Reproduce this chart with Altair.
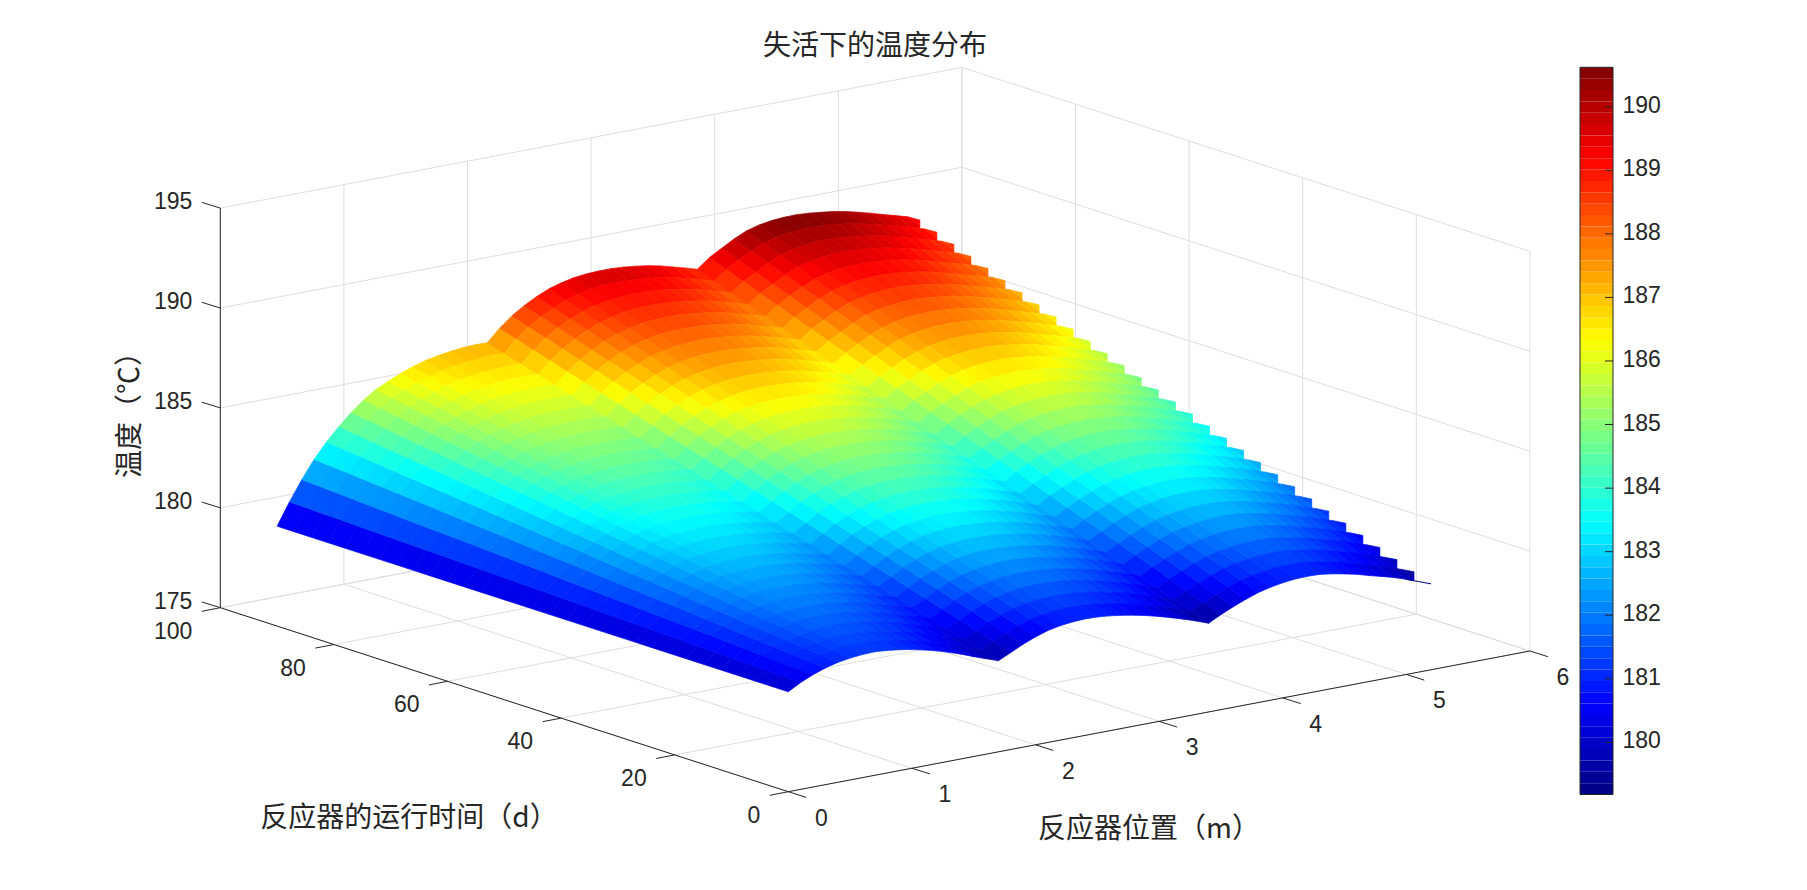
import altair as alt

# ---------- data ----------
positions = [round(0.1 * j, 1) for j in range(53)]
days = [3 * k for k in range(31)]
temps = [
[180.00,180.35,180.62,180.84,181.00,181.10,181.16,181.18,181.13,181.05,180.94,180.80,180.64,180.45,180.24,180.00,179.78,179.56,179.85,180.15,180.40,180.60,180.73,180.80,180.83,180.81,180.75,180.66,180.55,180.41,180.25,180.07,179.88,179.67,179.44,179.75,180.03,180.28,180.50,180.65,180.76,180.83,180.85,180.83,180.74,180.62,180.48,180.30,180.14,179.97,179.76,179.53,179.30],
[180.00,180.38,180.67,180.91,181.09,181.21,181.29,181.32,181.29,181.22,181.12,181.00,180.85,180.67,180.47,180.24,180.03,179.81,180.12,180.42,180.68,180.88,181.02,181.09,181.12,181.11,181.05,180.96,180.85,180.72,180.56,180.38,180.19,179.98,179.75,180.07,180.35,180.61,180.83,180.98,181.09,181.16,181.18,181.16,181.07,180.95,180.81,180.63,180.47,180.30,180.09,179.86,179.63],
[180.00,180.40,180.72,180.98,181.18,181.32,181.42,181.47,181.45,181.39,181.31,181.19,181.06,180.89,180.70,180.48,180.27,180.07,180.38,180.69,180.95,181.16,181.30,181.38,181.42,181.40,181.35,181.26,181.16,181.02,180.87,180.69,180.50,180.30,180.07,180.39,180.67,180.93,181.16,181.31,181.42,181.48,181.50,181.48,181.39,181.28,181.14,180.96,180.80,180.63,180.42,180.19,179.96],
[180.00,180.43,180.77,181.06,181.28,181.43,181.54,181.61,181.61,181.57,181.49,181.39,181.26,181.10,180.93,180.72,180.52,180.32,180.65,180.97,181.23,181.44,181.59,181.67,181.71,181.70,181.65,181.57,181.46,181.33,181.18,181.00,180.81,180.61,180.38,180.71,181.00,181.26,181.48,181.63,181.74,181.81,181.83,181.81,181.72,181.60,181.47,181.29,181.13,180.96,180.75,180.53,180.29],
[180.00,180.45,180.82,181.13,181.37,181.54,181.67,181.76,181.77,181.74,181.68,181.59,181.47,181.32,181.16,180.96,180.77,180.58,180.91,181.24,181.51,181.72,181.87,181.96,182.00,181.99,181.95,181.87,181.77,181.64,181.49,181.31,181.12,180.93,180.70,181.03,181.32,181.58,181.81,181.96,182.07,182.14,182.16,182.14,182.05,181.93,181.80,181.62,181.46,181.29,181.08,180.86,180.62],
[180.00,180.48,180.87,181.20,181.46,181.65,181.80,181.90,181.93,181.91,181.86,181.78,181.68,181.54,181.38,181.20,181.02,180.83,181.18,181.51,181.78,182.01,182.16,182.25,182.30,182.29,182.25,182.17,182.07,181.94,181.80,181.62,181.44,181.24,181.01,181.35,181.64,181.91,182.14,182.29,182.40,182.47,182.49,182.46,182.38,182.26,182.13,181.95,181.79,181.62,181.41,181.19,180.95],
[180.00,180.50,180.92,181.27,181.55,181.76,181.93,182.04,182.08,182.08,182.05,181.98,181.89,181.76,181.61,181.43,181.26,181.09,181.44,181.78,182.06,182.29,182.44,182.54,182.59,182.59,182.54,182.47,182.38,182.25,182.10,181.93,181.75,181.55,181.33,181.67,181.96,182.23,182.47,182.62,182.73,182.79,182.81,182.79,182.70,182.59,182.45,182.28,182.12,181.95,181.74,181.52,181.28],
[180.00,180.53,180.97,181.34,181.64,181.87,182.06,182.19,182.24,182.25,182.23,182.18,182.10,181.98,181.84,181.67,181.51,181.34,181.71,182.05,182.34,182.57,182.73,182.83,182.88,182.88,182.84,182.77,182.68,182.56,182.41,182.25,182.06,181.86,181.64,181.99,182.29,182.56,182.79,182.95,183.06,183.12,183.14,183.11,183.03,182.92,182.78,182.61,182.45,182.28,182.07,181.86,181.61],
[180.00,180.55,181.01,181.42,181.73,181.98,182.18,182.33,182.40,182.42,182.41,182.37,182.30,182.20,182.07,181.91,181.76,181.59,181.97,182.32,182.61,182.85,183.02,183.11,183.17,183.18,183.14,183.08,182.98,182.86,182.72,182.56,182.37,182.17,181.95,182.31,182.61,182.89,183.12,183.28,183.38,183.45,183.47,183.44,183.36,183.25,183.11,182.94,182.78,182.60,182.41,182.19,181.95],
[180.00,180.58,181.06,181.49,181.83,182.09,182.31,182.48,182.56,182.60,182.60,182.57,182.51,182.41,182.30,182.15,182.01,181.85,182.24,182.60,182.89,183.13,183.30,183.40,183.47,183.47,183.44,183.38,183.29,183.17,183.03,182.87,182.68,182.48,182.27,182.63,182.93,183.21,183.45,183.60,183.71,183.78,183.79,183.77,183.68,183.57,183.44,183.27,183.11,182.93,182.74,182.52,182.28],
[180.00,180.60,181.11,181.56,181.92,182.20,182.44,182.62,182.72,182.77,182.78,182.77,182.72,182.63,182.53,182.39,182.25,182.10,182.50,182.87,183.17,183.41,183.59,183.69,183.76,183.77,183.74,183.68,183.59,183.48,183.34,183.18,182.99,182.80,182.58,182.95,183.25,183.54,183.78,183.93,184.04,184.10,184.12,184.09,184.01,183.90,183.77,183.60,183.44,183.26,183.07,182.85,182.61],
[180.00,180.63,181.16,181.63,182.01,182.31,182.57,182.76,182.88,182.94,182.97,182.96,182.93,182.85,182.76,182.63,182.50,182.36,182.77,183.14,183.44,183.69,183.87,183.98,184.05,184.07,184.04,183.99,183.90,183.78,183.65,183.49,183.30,183.11,182.90,183.27,183.58,183.86,184.10,184.26,184.37,184.43,184.45,184.42,184.34,184.23,184.10,183.93,183.77,183.59,183.40,183.19,182.94],
[180.00,180.65,181.21,181.70,182.10,182.42,182.70,182.91,183.04,183.11,183.15,183.16,183.14,183.07,182.98,182.87,182.75,182.61,183.03,183.41,183.72,183.97,184.16,184.27,184.35,184.36,184.34,184.28,184.20,184.09,183.96,183.80,183.62,183.42,183.21,183.59,183.90,184.19,184.43,184.59,184.70,184.76,184.77,184.75,184.66,184.56,184.43,184.26,184.10,183.92,183.73,183.52,183.27],
[180.00,180.68,181.26,181.78,182.19,182.53,182.82,183.05,183.20,183.28,183.34,183.36,183.34,183.29,183.21,183.11,182.99,182.87,183.30,183.68,184.00,184.25,184.44,184.56,184.64,184.66,184.64,184.59,184.51,184.40,184.27,184.11,183.93,183.74,183.53,183.91,184.22,184.51,184.76,184.92,185.02,185.08,185.10,185.07,184.99,184.89,184.76,184.59,184.43,184.25,184.06,183.85,183.60],
[180.00,180.70,181.31,181.85,182.28,182.64,182.95,183.20,183.36,183.45,183.52,183.55,183.55,183.51,183.44,183.35,183.24,183.12,183.56,183.95,184.27,184.53,184.73,184.85,184.93,184.95,184.94,184.89,184.81,184.70,184.58,184.42,184.24,184.05,183.84,184.23,184.54,184.84,185.09,185.25,185.35,185.41,185.43,185.40,185.32,185.22,185.09,184.92,184.76,184.58,184.39,184.18,183.93],
[180.00,180.73,181.36,181.92,182.38,182.75,183.08,183.34,183.52,183.63,183.70,183.75,183.76,183.72,183.67,183.59,183.49,183.37,183.83,184.23,184.55,184.82,185.02,185.14,185.23,185.25,185.24,185.19,185.12,185.01,184.89,184.73,184.55,184.36,184.15,184.55,184.87,185.17,185.42,185.57,185.68,185.74,185.76,185.72,185.65,185.54,185.42,185.25,185.09,184.91,184.72,184.51,184.26],
[180.00,180.75,181.41,181.99,182.47,182.86,183.21,183.48,183.67,183.80,183.89,183.95,183.97,183.94,183.90,183.82,183.74,183.63,184.09,184.50,184.83,185.10,185.30,185.43,185.52,185.55,185.53,185.49,185.42,185.32,185.19,185.04,184.86,184.67,184.47,184.87,185.19,185.49,185.74,185.90,186.01,186.07,186.08,186.05,185.97,185.87,185.74,185.58,185.42,185.24,185.05,184.85,184.59],
[180.00,180.78,181.46,182.06,182.56,182.97,183.34,183.63,183.83,183.97,184.07,184.14,184.18,184.16,184.13,184.06,183.98,183.88,184.36,184.77,185.10,185.38,185.59,185.72,185.81,185.84,185.83,185.79,185.72,185.62,185.50,185.35,185.17,184.99,184.78,185.19,185.51,185.82,186.07,186.23,186.34,186.39,186.41,186.38,186.30,186.20,186.07,185.91,185.75,185.57,185.38,185.18,184.92],
[180.00,180.80,181.51,182.14,182.65,183.08,183.46,183.77,183.99,184.14,184.26,184.34,184.38,184.38,184.36,184.30,184.23,184.14,184.62,185.04,185.38,185.66,185.87,186.01,186.10,186.14,186.13,186.10,186.03,185.93,185.81,185.66,185.48,185.30,185.10,185.51,185.83,186.14,186.40,186.56,186.66,186.72,186.74,186.70,186.63,186.53,186.40,186.24,186.07,185.90,185.71,185.51,185.25],
[180.00,180.83,181.56,182.21,182.74,183.19,183.59,183.92,184.15,184.31,184.44,184.54,184.59,184.60,184.59,184.54,184.48,184.39,184.89,185.31,185.66,185.94,186.16,186.30,186.40,186.43,186.43,186.40,186.33,186.24,186.12,185.97,185.79,185.61,185.41,185.83,186.15,186.47,186.73,186.89,186.99,187.05,187.06,187.03,186.95,186.86,186.73,186.57,186.40,186.23,186.04,185.84,185.58],
[180.00,180.85,181.61,182.28,182.83,183.30,183.72,184.06,184.31,184.48,184.63,184.73,184.80,184.82,184.81,184.78,184.73,184.65,185.15,185.58,185.93,186.22,186.44,186.59,186.69,186.73,186.73,186.70,186.64,186.54,186.43,186.28,186.11,185.92,185.73,186.15,186.48,186.79,187.05,187.22,187.32,187.38,187.39,187.36,187.28,187.19,187.06,186.90,186.73,186.56,186.37,186.18,185.91],
[180.00,180.88,181.66,182.35,182.93,183.41,183.85,184.20,184.47,184.66,184.81,184.93,185.01,185.03,185.04,185.02,184.97,184.90,185.42,185.86,186.21,186.50,186.73,186.88,186.98,187.03,187.03,187.00,186.94,186.85,186.74,186.59,186.42,186.24,186.04,186.47,186.80,187.12,187.38,187.54,187.65,187.70,187.72,187.68,187.61,187.51,187.39,187.23,187.06,186.89,186.70,186.51,186.24],
[180.00,180.90,181.70,182.42,183.02,183.52,183.98,184.35,184.63,184.83,185.00,185.13,185.22,185.25,185.27,185.26,185.22,185.15,185.68,186.13,186.49,186.78,187.01,187.16,187.28,187.32,187.33,187.30,187.24,187.16,187.05,186.90,186.73,186.55,186.35,186.79,187.12,187.45,187.71,187.87,187.98,188.03,188.04,188.01,187.93,187.84,187.72,187.56,187.39,187.21,187.03,186.84,186.58],
[180.00,180.93,181.75,182.50,183.11,183.63,184.10,184.49,184.79,185.00,185.18,185.32,185.42,185.47,185.50,185.50,185.47,185.41,185.95,186.40,186.76,187.06,187.30,187.45,187.57,187.62,187.63,187.61,187.55,187.46,187.36,187.21,187.04,186.86,186.67,187.11,187.44,187.77,188.04,188.20,188.30,188.36,188.37,188.33,188.26,188.17,188.05,187.89,187.72,187.54,187.37,187.17,186.91],
[180.00,180.95,181.80,182.57,183.20,183.74,184.23,184.64,184.95,185.17,185.36,185.52,185.63,185.69,185.73,185.74,185.72,185.66,186.21,186.67,187.04,187.34,187.59,187.74,187.86,187.91,187.93,187.91,187.85,187.77,187.67,187.52,187.35,187.17,186.98,187.43,187.77,188.10,188.37,188.53,188.63,188.69,188.70,188.66,188.59,188.50,188.38,188.22,188.05,187.87,187.70,187.51,187.24],
[180.00,180.98,181.85,182.64,183.29,183.85,184.36,184.78,185.11,185.34,185.55,185.72,185.84,185.91,185.96,185.98,185.96,185.92,186.48,186.94,187.32,187.63,187.87,188.03,188.16,188.21,188.23,188.21,188.16,188.08,187.98,187.84,187.66,187.49,187.30,187.75,188.09,188.42,188.69,188.86,188.96,189.01,189.03,188.99,188.92,188.83,188.71,188.55,188.38,188.20,188.03,187.84,187.57],
[180.00,181.00,181.90,182.71,183.38,183.96,184.49,184.92,185.26,185.51,185.73,185.91,186.05,186.13,186.19,186.21,186.21,186.17,186.74,187.21,187.59,187.91,188.16,188.32,188.45,188.51,188.52,188.51,188.46,188.38,188.28,188.15,187.97,187.80,187.61,188.07,188.41,188.75,189.02,189.19,189.29,189.34,189.35,189.31,189.24,189.16,189.03,188.88,188.71,188.53,188.36,188.17,187.90],
[180.00,181.03,181.95,182.78,183.48,184.07,184.62,185.07,185.42,185.69,185.92,186.11,186.26,186.34,186.42,186.45,186.46,186.43,187.01,187.49,187.87,188.19,188.44,188.61,188.74,188.80,188.82,188.81,188.77,188.69,188.59,188.46,188.29,188.11,187.93,188.39,188.73,189.07,189.35,189.51,189.62,189.67,189.68,189.64,189.57,189.48,189.36,189.21,189.04,188.86,188.69,188.50,188.23],
[180.00,181.05,182.00,182.86,183.57,184.18,184.74,185.21,185.58,185.86,186.10,186.31,186.46,186.56,186.64,186.69,186.70,186.68,187.27,187.76,188.15,188.47,188.73,188.90,189.03,189.10,189.12,189.11,189.07,189.00,188.90,188.77,188.60,188.43,188.24,188.71,189.05,189.40,189.67,189.84,189.94,190.00,190.01,189.97,189.90,189.81,189.69,189.54,189.37,189.19,189.02,188.83,188.56],
[180.00,181.08,182.05,182.93,183.66,184.29,184.87,185.36,185.74,186.03,186.29,186.50,186.67,186.78,186.87,186.93,186.95,186.93,187.54,188.03,188.42,188.75,189.01,189.19,189.33,189.40,189.42,189.41,189.38,189.30,189.21,189.08,188.91,188.74,188.55,189.03,189.38,189.72,190.00,190.17,190.27,190.32,190.33,190.29,190.23,190.14,190.02,189.87,189.70,189.52,189.35,189.17,188.89],
[180.00,181.10,182.10,183.00,183.75,184.40,185.00,185.50,185.90,186.20,186.47,186.70,186.88,187.00,187.10,187.17,187.20,187.19,187.80,188.30,188.70,189.03,189.30,189.48,189.62,189.69,189.72,189.72,189.68,189.61,189.52,189.39,189.22,189.05,188.87,189.35,189.70,190.05,190.33,190.50,190.60,190.65,190.66,190.62,190.55,190.47,190.35,190.20,190.03,189.85,189.68,189.50,189.22],
]
x_ticks = [0, 1, 2, 3, 4, 5, 6]
t_ticks = [0, 20, 40, 60, 80, 100]
z_ticks = [175, 180, 185, 190, 195]
bar_ticks = [180, 181, 182, 183, 184, 185, 186, 187, 188, 189, 190]
bar_min, bar_max = 179.18, 190.62

# ---------- oblique view of the box, in page pixels ----------
W, H = 1790, 870
def view(x, t, z):
    return (788.3 + 123.6 * x - 5.68 * t,
            791.7 - 23.45 * x - 1.84 * t - 19.98 * (z - 175))

def jet(k, n=64):
    v = (k + 0.5) / n
    def c(u):
        return max(0.0, min(1.0, 1.5 - abs(4 * v - u)))
    return "#%02x%02x%02x" % tuple(int(round(255 * c(u))) for u in (3, 2, 1))
jet64 = [jet(k) for k in range(64)]
jet_stops = [bar_min + (bar_max - bar_min) * (k + 0.5) / 64 for k in range(64)]

def clip_right(poly, lim):
    out = []
    for a, b in zip(poly, poly[1:] + poly[:1]):
        ain, bin_ = a[0] <= lim, b[0] <= lim
        if ain:
            out.append(a)
        if ain != bin_:
            f = (lim - a[0]) / (b[0] - a[0])
            out.append((lim, a[1] + f * (b[1] - a[1])))
    return out

# back rows first, so that nearer rows lie on top
features = []
end = positions[-1]
for k in range(len(days) - 2, -1, -1):
    limit = view(end, days[k + 1], 180)[0]
    for j in range(len(positions) - 1):
        corners = [(k + 1, j), (k + 1, j + 1), (k, j + 1), (k, j)]
        poly = [view(positions[b], days[a], temps[a][b]) for a, b in corners]
        poly = clip_right(poly, limit)
        if len(poly) < 3:
            continue
        ring = [[p[0] - 8, p[1] - 8] for p in poly]
        ring.append(ring[0])
        features.append({"type": "Feature",
                         "geometry": {"type": "Polygon", "coordinates": [ring]},
                         "properties": {"T": sum(temps[a][b] for a, b in corners) / 4}})

# grid and axes as line pieces
def seg(a, b):
    p, q = view(*a), view(*b)
    return {"x": p[0], "y": p[1], "x2": q[0], "y2": q[1]}

light = []
for x in x_ticks:
    light += [seg((x, 0, 175), (x, 100, 175)), seg((x, 100, 175), (x, 100, 195))]
for t in t_ticks:
    light += [seg((0, t, 175), (6, t, 175)), seg((6, t, 175), (6, t, 195))]
for z in z_ticks:
    light += [seg((0, 100, z), (6, 100, z)), seg((6, 100, z), (6, 0, z))]

dark = [seg((0, 0, 175), (6, 0, 175)), seg((0, 0, 175), (0, 100, 175)), seg((0, 100, 175), (0, 100, 195))]
labels = []
for x in x_ticks:
    p = view(x, 0, 175)
    dark.append({"x": p[0], "y": p[1], "x2": p[0] + 18, "y2": p[1] + 5.7})
    labels.append({"x": p[0] + 33, "y": p[1] + 27, "text": str(x), "align": "center"})
for t in t_ticks:
    p = view(0, t, 175)
    dark.append({"x": p[0], "y": p[1], "x2": p[0] - 18.5, "y2": p[1] + 3.6})
    labels.append({"x": p[0] - 28, "y": p[1] + 24, "text": str(t), "align": "right"})
for z in z_ticks:
    p = view(0, 100, z)
    dark.append({"x": p[0], "y": p[1], "x2": p[0] - 18.5, "y2": p[1] - 5.7})
    labels.append({"x": p[0] - 28, "y": p[1] - 6, "text": str(z), "align": "right"})

# colour bar
bx0, bx1, by0, by1 = 1580, 1613, 67.3, 794.5
def bar_y(v):
    return by1 - (v - bar_min) / (bar_max - bar_min) * (by1 - by0)
bar_cells = [{"x": bx0, "x2": bx1,
              "y": bar_y(bar_min + (bar_max - bar_min) * k / 64),
              "y2": bar_y(bar_min + (bar_max - bar_min) * (k + 1) / 64),
              "c": jet64[k]} for k in range(64)]
bar_frame = [{"x": bx0, "y": by0, "x2": bx1, "y2": by0}, {"x": bx0, "y": by1, "x2": bx1, "y2": by1},
             {"x": bx0, "y": by0, "x2": bx0, "y2": by1}, {"x": bx1, "y": by0, "x2": bx1, "y2": by1}]
for v in bar_ticks:
    bar_frame.append({"x": bx1 - 8, "y": bar_y(v), "x2": bx1, "y2": bar_y(v)})
    labels.append({"x": 1622.5, "y": bar_y(v) - 1, "text": str(v), "align": "left"})

titles = [
    {"x": 875, "y": 47, "text": "失活下的温度分布", "a": 0},
    {"x": 409, "y": 819, "text": "反应器的运行时间（d）", "a": 0},
    {"x": 1149, "y": 830, "text": "反应器位置（m）", "a": 0},
    {"x": 131, "y": 408, "text": "温度（℃）", "a": 270},
]

# the last row runs on alone for its final stretch
tail = [seg((positions[-3], days[0], temps[0][-3]), (positions[-2], days[0], temps[0][-2])),
        seg((positions[-2], days[0], temps[0][-2]), (positions[-1], days[0], temps[0][-1]))]

# ---------- chart ----------
sx = alt.Scale(domain=[8, 8 + W], range=[0, W], nice=False, zero=False)
sy = alt.Scale(domain=[8, 8 + H], range=[0, H], nice=False, zero=False)
X = alt.X("x:Q", scale=sx, axis=None)
Y = alt.Y("y:Q", scale=sy, axis=None)

def rules(rows, color, width):
    return alt.Chart(alt.Data(values=rows)).mark_rule(color=color, strokeWidth=width).encode(
        x=X, y=Y, x2="x2:Q", y2="y2:Q")

color_scale = alt.Scale(type="linear", domain=jet_stops, range=jet64, clamp=True)
surface = alt.Chart(alt.Data(values=features)).mark_geoshape(strokeWidth=0.7).encode(
    color=alt.Color("properties.T:Q", scale=color_scale, legend=None),
    stroke=alt.Stroke("properties.T:Q", scale=color_scale, legend=None),
).project(type="identity", scale=1, translate=[0, 0])

bar = alt.Chart(alt.Data(values=bar_cells)).mark_rect().encode(
    x=X, y=Y, x2="x2:Q", y2="y2:Q", color=alt.Color("c:N", scale=None))

def text_layer(rows, align):
    return alt.Chart(alt.Data(values=[r for r in rows if r["align"] == align])).mark_text(
        font="Liberation Sans", fontSize=23, color="#262626", align=align, baseline="middle"
    ).encode(x=X, y=Y, text="text:N")

def title_layer(row, size):
    return alt.Chart(alt.Data(values=[row])).mark_text(
        font="Noto Sans CJK SC", fontSize=size, color="#262626", align="center", baseline="middle",
        angle=row["a"]).encode(x=X, y=Y, text="text:N")

chart = alt.layer(
    rules(light, "#dedede", 1),
    rules(dark, "#262626", 1),
    rules(tail, "#00007f", 1),
    surface,
    bar,
    rules(bar_frame, "#262626", 1),
    text_layer(labels, "center"), text_layer(labels, "right"), text_layer(labels, "left"),
    title_layer(titles[0], 28), title_layer(titles[1], 28), title_layer(titles[2], 28), title_layer(titles[3], 28),
).resolve_scale(color="independent", stroke="independent").properties(
    width=W, height=H, padding=0, background="white"
).configure_view(stroke=None)

chart.save("out.html", embed_options={"renderer": "svg", "actions": False})
